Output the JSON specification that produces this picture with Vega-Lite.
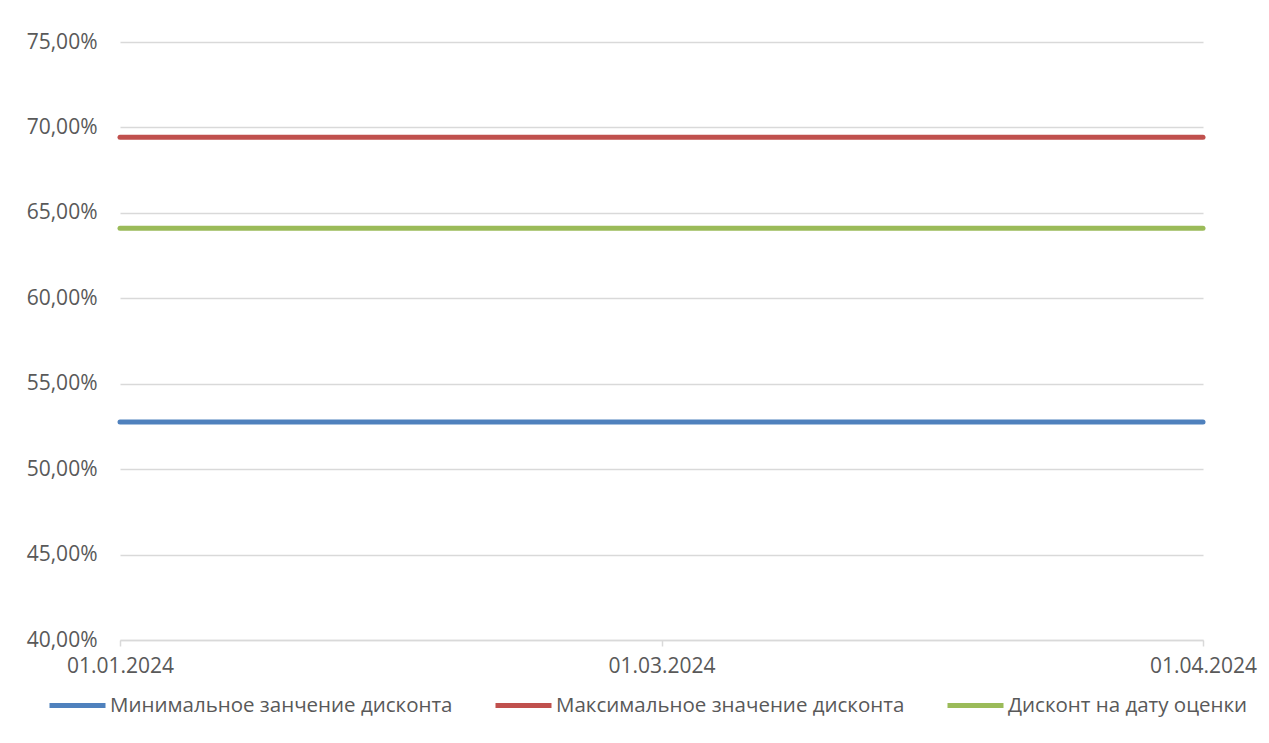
{
  "$schema": "https://vega.github.io/schema/vega-lite/v6.json",
  "autosize": {"type": "none"},
  "padding": {"left": 120, "top": 42, "right": 66, "bottom": 103},
  "width": 1083,
  "height": 598,
  "background": "white",
  "data": {
    "values": [
      {"date": "01.01.2024", "series": "Минимальное занчение дисконта", "value": 0.5276},
      {"date": "01.03.2024", "series": "Минимальное занчение дисконта", "value": 0.5276},
      {"date": "01.04.2024", "series": "Минимальное занчение дисконта", "value": 0.5276},
      {"date": "01.01.2024", "series": "Максимальное значение дисконта", "value": 0.6943},
      {"date": "01.03.2024", "series": "Максимальное значение дисконта", "value": 0.6943},
      {"date": "01.04.2024", "series": "Максимальное значение дисконта", "value": 0.6943},
      {"date": "01.01.2024", "series": "Дисконт на дату оценки", "value": 0.641},
      {"date": "01.03.2024", "series": "Дисконт на дату оценки", "value": 0.641},
      {"date": "01.04.2024", "series": "Дисконт на дату оценки", "value": 0.641}
    ]
  },
  "mark": {"type": "line", "strokeWidth": 5, "strokeCap": "round"},
  "encoding": {
    "x": {
      "field": "date",
      "type": "ordinal",
      "sort": ["01.01.2024", "01.03.2024", "01.04.2024"],
      "scale": {"type": "point", "padding": 0},
      "axis": {
        "title": null,
        "labelAngle": 0,
        "grid": false,
        "domainColor": "#D9D9D9",
        "domainWidth": 1.5,
        "tickColor": "#D9D9D9",
        "tickWidth": 1.5,
        "tickSize": 6,
        "labelPadding": 9,
        "labelFont": "Open Sans",
        "labelFontSize": 21,
        "labelColor": "#595959"
      }
    },
    "y": {
      "field": "value",
      "type": "quantitative",
      "scale": {"domain": [0.4, 0.75], "nice": false, "zero": false},
      "axis": {
        "title": null,
        "values": [0.4, 0.45, 0.5, 0.55, 0.6, 0.65, 0.7, 0.75],
        "labelExpr": "replace(format(datum.value, '.2%'), '.', ',')",
        "domain": false,
        "ticks": false,
        "grid": true,
        "gridColor": "#D9D9D9",
        "gridWidth": 1.5,
        "labelPadding": 23,
        "labelFont": "Open Sans",
        "labelFontSize": 21,
        "labelColor": "#595959"
      }
    },
    "color": {
      "field": "series",
      "type": "nominal",
      "sort": ["Минимальное занчение дисконта", "Максимальное значение дисконта", "Дисконт на дату оценки"],
      "scale": {
        "domain": ["Минимальное занчение дисконта", "Максимальное значение дисконта", "Дисконт на дату оценки"],
        "range": ["#4F81BD", "#C0504D", "#9BBB59"]
      },
      "legend": {
        "title": null,
        "orient": "none",
        "direction": "horizontal",
        "legendX": -73,
        "legendY": 633,
        "symbolType": "stroke",
        "symbolSize": 3136,
        "symbolStrokeWidth": 5,
        "labelOffset": 2,
        "columnPadding": 32,
        "labelLimit": 0,
        "labelFont": "Open Sans",
        "labelFontSize": 20.5,
        "labelColor": "#595959",
        "padding": 0
      }
    }
  },
  "config": {"view": {"stroke": null}}
}
